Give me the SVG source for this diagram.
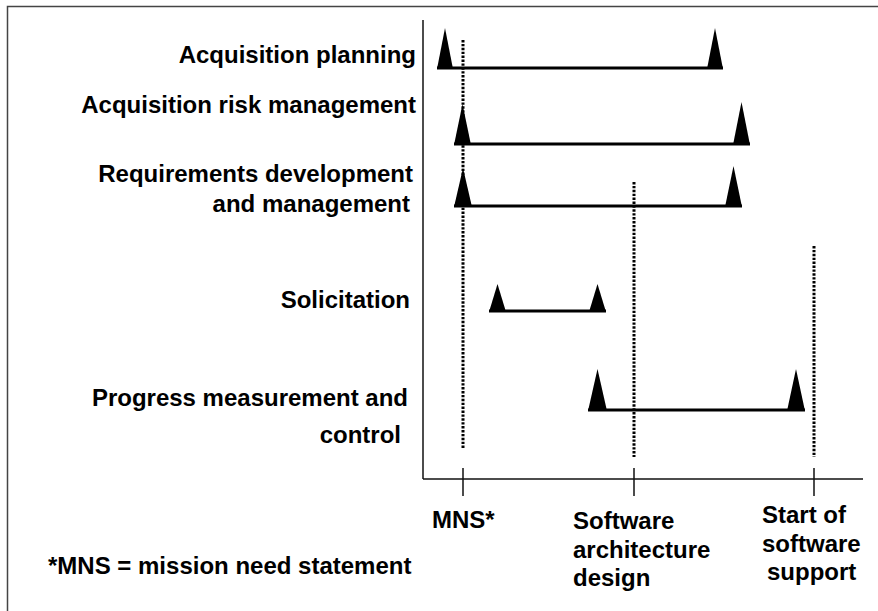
<svg xmlns="http://www.w3.org/2000/svg" width="878" height="611" viewBox="0 0 878 611">
<style>
text{font-family:"Liberation Sans",Arial,sans-serif;font-weight:bold;font-size:24px;fill:#000}
.r{text-anchor:end}
.axis{stroke:#111;stroke-width:1.5;fill:none}
.bar{stroke:#000;stroke-width:3;fill:none}
.dot{stroke:#000;stroke-width:3;stroke-dasharray:2.4 1.5;fill:none}
.tri{fill:#000}
</style>
<rect x="7.5" y="6.5" width="890" height="630" fill="#fff" stroke="#444" stroke-width="1.5"/>
<g id="axes">
<line class="axis" x1="423" y1="20" x2="423" y2="479"/>
<line class="axis" x1="423" y1="479" x2="863" y2="479"/>
<line class="axis" x1="463" y1="468" x2="463" y2="496"/>
<line class="axis" x1="634" y1="468" x2="634" y2="496"/>
<line class="axis" x1="814" y1="468" x2="814" y2="496"/>
</g>
<g id="milestones">
<line class="dot" x1="463" y1="40" x2="463" y2="448"/>
<line class="dot" x1="634" y1="182" x2="634" y2="457"/>
<line class="dot" x1="814" y1="246" x2="814" y2="457"/>
</g>
<g id="row-acq-planning">
<text class="r" x="416" y="63">Acquisition planning</text>
<line class="bar" x1="437" y1="68" x2="723" y2="68"/>
<polygon class="tri" points="437,69 445,28 453,69"/>
<polygon class="tri" points="707,69 715,28 723,69"/>
</g>
<g id="row-acq-risk">
<text class="r" x="416" y="113">Acquisition risk management</text>
<line class="bar" x1="454" y1="144" x2="750" y2="144"/>
<polygon class="tri" points="454,145 462.5,104 471,145"/>
<polygon class="tri" points="733,145 741.5,102 750,145"/>
</g>
<g id="row-requirements">
<text class="r" x="413" y="182">Requirements development</text>
<text class="r" x="410" y="212">and management</text>
<line class="bar" x1="454" y1="206" x2="742" y2="206"/>
<polygon class="tri" points="454,207 463,168 472,207"/>
<polygon class="tri" points="725,207 733.5,166 742,207"/>
</g>
<g id="row-solicitation">
<text class="r" x="410" y="308">Solicitation</text>
<line class="bar" x1="489" y1="311" x2="606" y2="311"/>
<polygon class="tri" points="489,312 497.5,284 506,312"/>
<polygon class="tri" points="589,312 597.5,284 606,312"/>
</g>
<g id="row-progress">
<text class="r" x="408" y="406">Progress measurement and</text>
<text class="r" x="401" y="443">control</text>
<line class="bar" x1="588" y1="410" x2="805" y2="410"/>
<polygon class="tri" points="588,411 597.5,369 607,411"/>
<polygon class="tri" points="787,411 796,369 805,411"/>
</g>
<g id="labels">
<text x="432" y="528">MNS*</text>
<text x="573" y="529">Software</text>
<text x="573" y="558">architecture</text>
<text x="573" y="586">design</text>
<text x="762" y="523">Start of</text>
<text x="762" y="552">software</text>
<text x="767" y="580">support</text>
<text x="48" y="574">*MNS = mission need statement</text>
</g>
</svg>
